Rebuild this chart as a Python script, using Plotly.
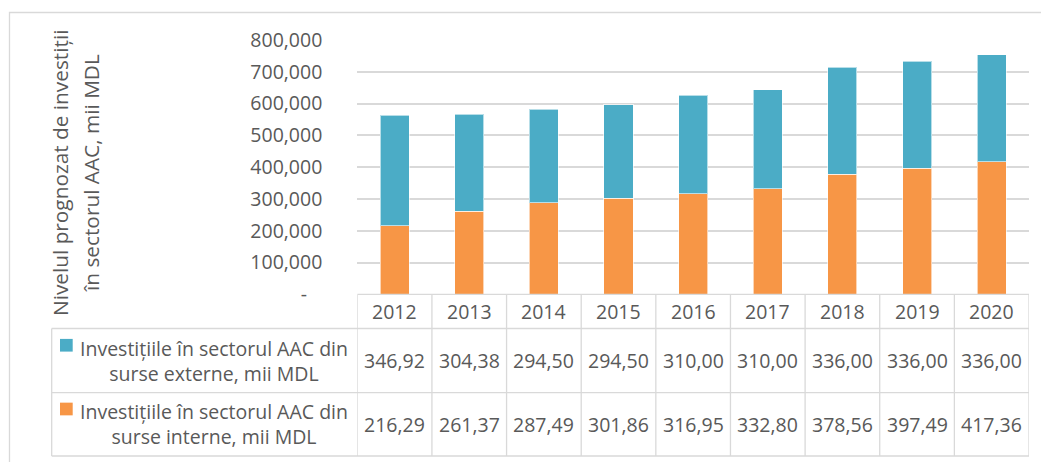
import plotly.graph_objects as go

# ---------------- data ----------------
years = ["2012", "2013", "2014", "2015", "2016", "2017", "2018", "2019", "2020"]
internal = [216290, 261370, 287490, 301860, 316950, 332800, 378560, 397490, 417360]
external = [346920, 304380, 294500, 294500, 310000, 310000, 336000, 336000, 336000]
series_names = ["Investițiile în sectorul AAC din<br>surse externe, mii MDL",
                "Investițiile în sectorul AAC din<br>surse interne, mii MDL"]
y_tickvals = [0, 100000, 200000, 300000, 400000, 500000, 600000, 700000, 800000]
y_ticktext = ["-\u00a0\u00a0\u00a0", "100,000", "200,000", "300,000", "400,000",
              "500,000", "600,000", "700,000", "800,000"]
y_title_lines = ["Nivelul prognozat de investiții", "în sectorul AAC, mii MDL"]

# ---------------- style ----------------
W, H = 1041, 462
BLUE = "#4BACC6"
ORANGE = "#F79646"
GRID = "#D9D9D9"
TXT = "#595959"
FONT = "Open Sans"
FS = 19.5

def px(x):
    return x / W

def py(y):
    return 1 - y / H

plot_left, plot_right = 357.3, 1029.0
plot_top, plot_bottom = 40.0, 294.4
row_hdr_bottom = 328.5
row1_bottom = 392.7
row2_bottom = 456.0
table_left = 51.7

fig = go.Figure()
fig.add_trace(go.Bar(x=years, y=internal, name="interne", marker=dict(color=ORANGE,
                     line=dict(color="rgba(255,255,255,0.6)", width=1)), width=0.39))
fig.add_trace(go.Bar(x=years, y=external, name="externe", marker=dict(color=BLUE,
                     line=dict(color="rgba(255,255,255,0.6)", width=1)), width=0.39))

fig.update_layout(
    template="none",
    width=W, height=H, autosize=False,
    margin=dict(l=0, r=0, t=0, b=0, pad=0, autoexpand=False),
    paper_bgcolor="white", plot_bgcolor="white",
    barmode="stack", showlegend=False,
    font=dict(family=FONT, color=TXT, size=FS),
    xaxis=dict(type="category", domain=[px(plot_left), px(plot_right)],
               showticklabels=False, showgrid=False, zeroline=False, showline=False,
               ticks="", automargin=False,
               range=[-0.5, len(years) - 0.5], fixedrange=True),
    yaxis=dict(domain=[py(plot_bottom), py(plot_top)], range=[0, 800000],
               tickvals=y_tickvals, ticktext=y_ticktext,
               showgrid=True, gridcolor=GRID, gridwidth=1.5, showline=False,
               zeroline=False, ticks="", ticklabelstandoff=34, automargin=False,
               tickfont=dict(size=FS, color=TXT, family=FONT)),
)

shapes = []
line = dict(color=GRID, width=1.3)
# outer chart border
shapes.append(dict(type="rect", xref="paper", yref="paper",
                   x0=px(9.5), x1=px(1060), y0=py(480), y1=py(12.5),
                   line=dict(color=GRID, width=1.3), fillcolor="rgba(0,0,0,0)"))
# table horizontal lines
shapes.append(dict(type="line", xref="x", yref="paper", x0=-0.5, x1=len(years) - 0.5,
                   y0=py(plot_bottom), y1=py(plot_bottom), line=line))
for yy in [row_hdr_bottom, row1_bottom, row2_bottom]:
    shapes.append(dict(type="line", xref="paper", yref="paper", x0=px(table_left), x1=px(plot_right),
                       y0=py(yy), y1=py(yy), line=line))
# table vertical lines
for i in range(len(years) + 1):
    shapes.append(dict(type="line", xref="x", yref="paper", x0=i - 0.5, x1=i - 0.5,
                       y0=py(plot_bottom), y1=py(row2_bottom), line=line))
shapes.append(dict(type="line", xref="paper", yref="paper", x0=px(table_left), x1=px(table_left),
                   y0=py(row_hdr_bottom), y1=py(row2_bottom), line=line))
# legend keys
row_centers = [(row_hdr_bottom + row1_bottom) / 2, (row1_bottom + row2_bottom) / 2]
for rc, col in zip(row_centers, [BLUE, ORANGE]):
    shapes.append(dict(type="rect", xref="paper", yref="paper",
                       x0=px(60), x1=px(72.7), y0=py(rc - 21.7 + 12.7), y1=py(rc - 21.7),
                       fillcolor=col, line=dict(width=0)))
fig.update_layout(shapes=shapes)

ann = []
# year header
for i, yr in enumerate(years):
    ann.append(dict(x=i, y=py((plot_bottom + row_hdr_bottom) / 2), xref="x", yref="paper",
                    text=yr, showarrow=False, xanchor="center", yanchor="middle",
                    font=dict(size=FS, color=TXT, family=FONT)))
# values
for rc, vals in zip(row_centers, [external, internal]):
    for i, v in enumerate(vals):
        ann.append(dict(x=i, y=py(rc), xref="x", yref="paper",
                        text=f"{v / 1000:.2f}".replace(".", ","), showarrow=False,
                        xanchor="center", yanchor="middle",
                        font=dict(size=FS, color=TXT, family=FONT)))
# row labels
for rc, nm in zip(row_centers, series_names):
    ann.append(dict(x=px(214), y=py(rc), xref="paper", yref="paper", text=nm,
                    showarrow=False, xanchor="center", yanchor="middle", align="center",
                    font=dict(size=FS, color=TXT, family=FONT)))
# y-axis title (two lines, placed separately to match line spacing)
for xc, txt in zip([60.0, 91.0], y_title_lines):
    ann.append(dict(x=px(xc), y=py(173), xref="paper", yref="paper", text=txt,
                    showarrow=False, textangle=-90, xanchor="center", yanchor="middle",
                    align="center", font=dict(size=20.8, color=TXT, family=FONT)))
fig.update_layout(annotations=ann)

fig.write_html("out.html", config={"displayModeBar": False},
               post_script="document.body.style.margin='0';document.body.style.overflow='hidden';")
